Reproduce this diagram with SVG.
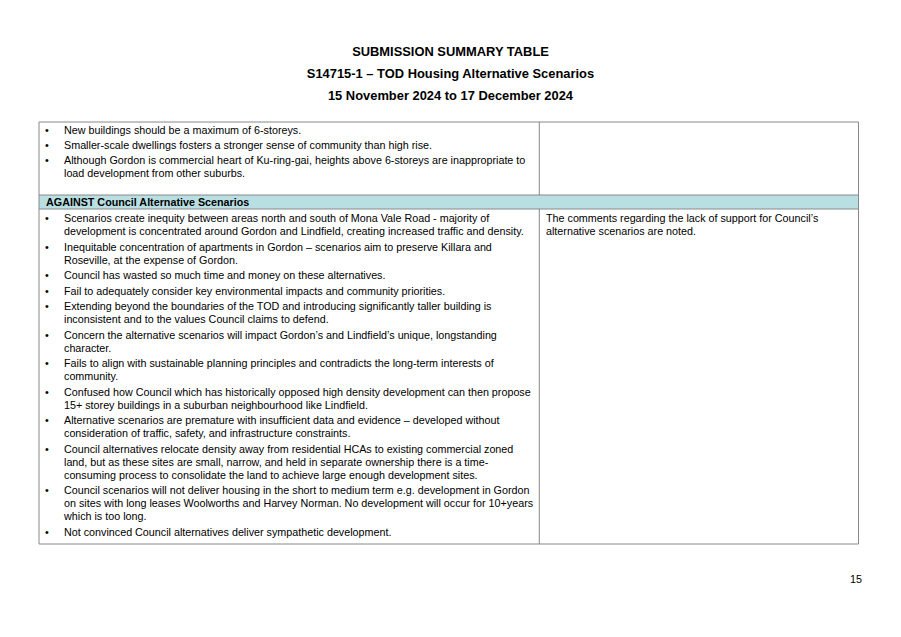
<svg xmlns="http://www.w3.org/2000/svg" width="901" height="637" viewBox="0 0 901 637">
<style>
.t{font-family:"Liberation Sans",Arial,sans-serif;font-size:10.75px;fill:#000}
.b{font-family:"Liberation Sans",Arial,sans-serif;font-weight:bold;fill:#000}
.h{font-size:12.9px}
.rule{stroke:#888888;stroke-width:1;fill:none}
</style>
<rect width="901" height="637" fill="#fff"/>
<g id="title">
<text class="b h" x="450.5" y="56" text-anchor="middle">SUBMISSION SUMMARY TABLE</text>
<text class="b h" x="450.5" y="78" text-anchor="middle">S14715-1 – TOD Housing Alternative Scenarios</text>
<text class="b h" x="450.5" y="100" text-anchor="middle">15 November 2024 to 17 December 2024</text>
</g>
<g id="table-lines">
<rect x="39" y="195" width="819.5" height="14" fill="#b9dfe3"/>
<line class="rule" x1="39" y1="122" x2="858.5" y2="122"/>
<line class="rule" x1="39" y1="195" x2="858.5" y2="195"/>
<line class="rule" x1="39" y1="209" x2="858.5" y2="209"/>
<line class="rule" x1="39" y1="544" x2="858.5" y2="544"/>
<line class="rule" x1="39" y1="122" x2="39" y2="544"/>
<line class="rule" x1="858.5" y1="122" x2="858.5" y2="544"/>
<line class="rule" x1="539.3" y1="122" x2="539.3" y2="195"/>
<line class="rule" x1="539.3" y1="209" x2="539.3" y2="544"/>
</g>
<g id="cell-top-left" class="t">
<text x="45" y="134">•</text><text x="64" y="134">New buildings should be a maximum of 6-storeys.</text>
<text x="45" y="148.5">•</text><text x="64" y="148.5">Smaller-scale dwellings fosters a stronger sense of community than high rise.</text>
<text x="45" y="164">•</text><text x="64" y="164">Although Gordon is commercial heart of Ku-ring-gai, heights above 6-storeys are inappropriate to</text>
<text x="64" y="177">load development from other suburbs.</text>
</g>
<g id="section-header">
<text class="b" x="46" y="205.8" font-size="10.75">AGAINST Council Alternative Scenarios</text>
</g>
<g id="cell-against" class="t">
<text x="45" y="222.3">•</text><text x="64" y="222.3">Scenarios create inequity between areas north and south of Mona Vale Road - majority of</text>
<text x="64" y="235.3">development is concentrated around Gordon and Lindfield, creating increased traffic and density.</text>
<text x="45" y="250.8">•</text><text x="64" y="250.8">Inequitable concentration of apartments in Gordon – scenarios aim to preserve Killara and</text>
<text x="64" y="263.8">Roseville, at the expense of Gordon.</text>
<text x="45" y="279.3">•</text><text x="64" y="279.3">Council has wasted so much time and money on these alternatives.</text>
<text x="45" y="294.8">•</text><text x="64" y="294.8">Fail to adequately consider key environmental impacts and community priorities.</text>
<text x="45" y="310.3">•</text><text x="64" y="310.3">Extending beyond the boundaries of the TOD and introducing significantly taller building is</text>
<text x="64" y="323.3">inconsistent and to the values Council claims to defend.</text>
<text x="45" y="338.8">•</text><text x="64" y="338.8">Concern the alternative scenarios will impact Gordon’s and Lindfield’s unique, longstanding</text>
<text x="64" y="351.8">character.</text>
<text x="45" y="367.3">•</text><text x="64" y="367.3">Fails to align with sustainable planning principles and contradicts the long-term interests of</text>
<text x="64" y="380.3">community.</text>
<text x="45" y="395.8">•</text><text x="64" y="395.8">Confused how Council which has historically opposed high density development can then propose</text>
<text x="64" y="408.8">15+ storey buildings in a suburban neighbourhood like Lindfield.</text>
<text x="45" y="424.3">•</text><text x="64" y="424.3">Alternative scenarios are premature with insufficient data and evidence – developed without</text>
<text x="64" y="437.3">consideration of traffic, safety, and infrastructure constraints.</text>
<text x="45" y="452.8">•</text><text x="64" y="452.8">Council alternatives relocate density away from residential HCAs to existing commercial zoned</text>
<text x="64" y="465.8">land, but as these sites are small, narrow, and held in separate ownership there is a time-</text>
<text x="64" y="478.8">consuming process to consolidate the land to achieve large enough development sites.</text>
<text x="45" y="494.3">•</text><text x="64" y="494.3">Council scenarios will not deliver housing in the short to medium term e.g. development in Gordon</text>
<text x="64" y="507.3">on sites with long leases Woolworths and Harvey Norman. No development will occur for 10+years</text>
<text x="64" y="520.3">which is too long.</text>
<text x="45" y="535.8">•</text><text x="64" y="535.8">Not convinced Council alternatives deliver sympathetic development.</text>
</g>
<g id="cell-response" class="t">
<text x="546" y="222.3">The comments regarding the lack of support for Council’s</text>
<text x="546" y="235.3">alternative scenarios are noted.</text>
</g>
<g id="page-number">
<text class="t" x="862" y="583" text-anchor="end">15</text>
</g>
</svg>
